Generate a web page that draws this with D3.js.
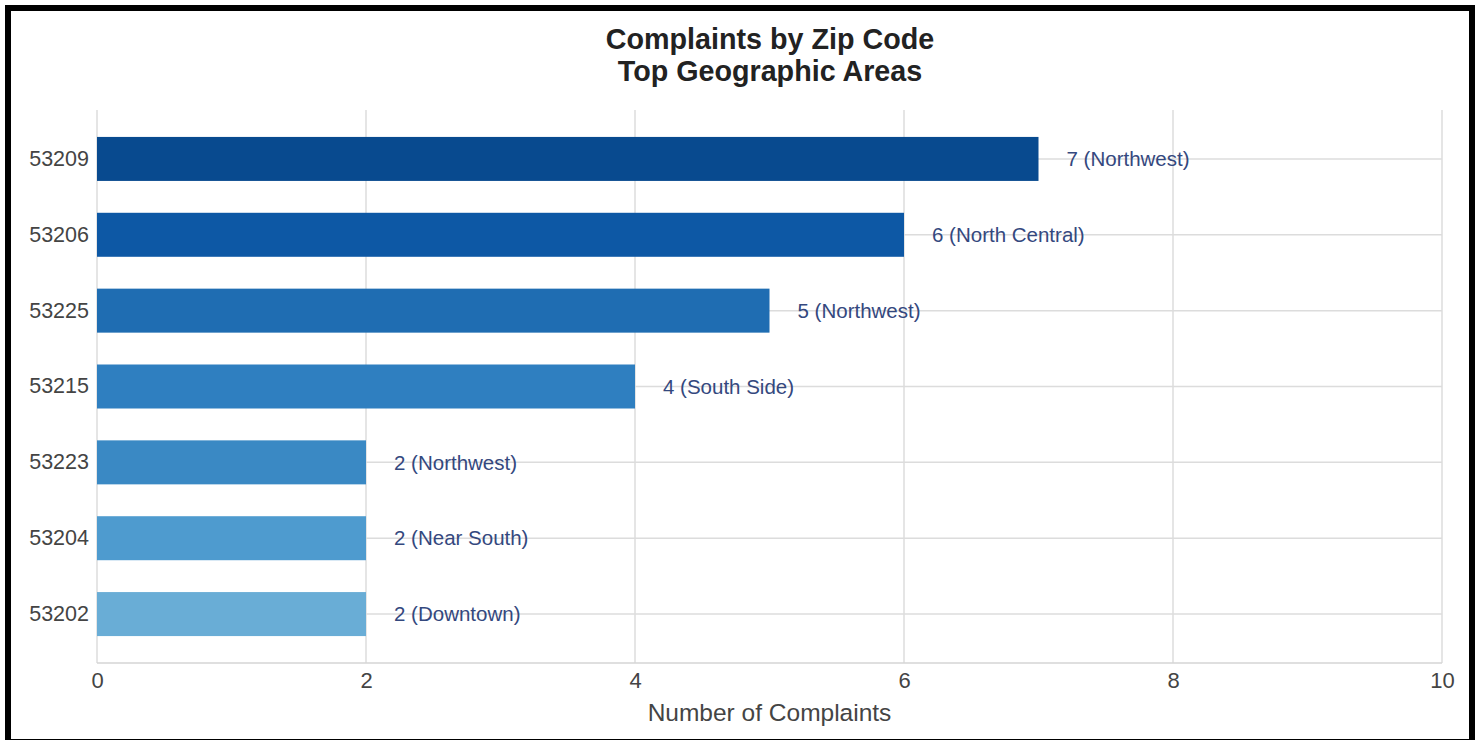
<!DOCTYPE html>
<html><head><meta charset="utf-8">
<script src="https://cdn.jsdelivr.net/npm/d3@7"></script>
<style>html,body{margin:0;padding:0;background:#fff;}svg{display:block;}</style>
</head><body>
<svg id="chart" width="1482" height="740"></svg>
<script>
const zips = ["53209","53206","53225","53215","53223","53204","53202"];
const counts = [7,6,5,4,2,2,2];
const areas = ["Northwest","North Central","Northwest","South Side","Northwest","Near South","Downtown"];
const barColors = ["#084a8f","#0d58a5","#1f6db2","#2f7fc0","#3a89c4","#4e9bcf","#69add6"];
const xTicks = [0,2,4,6,8,10];
const titleLines = ["Complaints by Zip Code","Top Geographic Areas"];
const xAxisTitle = "Number of Complaints";

const svg = d3.select("#chart");
const m = {left:97, right:1442, top:110, bottom:663};
const font = "'Liberation Sans', Arial, sans-serif";

svg.append("rect").attr("x",8).attr("y",8).attr("width",1464).attr("height",734)
  .attr("fill","#fff").attr("stroke","#000").attr("stroke-width",6);

const x = d3.scaleLinear().domain([0,10]).range([m.left,m.right]);
const y = d3.scaleBand().domain(zips).range([m.top,m.bottom]).paddingInner(0.42).paddingOuter(0.355);

// vertical grid
svg.append("g").selectAll("line").data(xTicks).join("line")
  .attr("x1",d=>x(d)).attr("x2",d=>x(d)).attr("y1",m.top).attr("y2",m.bottom)
  .attr("stroke","#dcdcdc").attr("stroke-width",1.5);
// horizontal grid at band centers
svg.append("g").selectAll("line").data(zips).join("line")
  .attr("x1",m.left).attr("x2",m.right)
  .attr("y1",d=>y(d)+y.bandwidth()/2).attr("y2",d=>y(d)+y.bandwidth()/2)
  .attr("stroke","#dcdcdc").attr("stroke-width",1.5);
// baseline
svg.append("line").attr("x1",m.left).attr("x2",m.right).attr("y1",m.bottom).attr("y2",m.bottom)
  .attr("stroke","#d4d4d4").attr("stroke-width",1.5);

// bars
svg.append("g").selectAll("rect").data(zips).join("rect")
  .attr("x",x(0)).attr("y",d=>y(d))
  .attr("width",(d,i)=>x(counts[i])-x(0)).attr("height",y.bandwidth())
  .attr("fill",(d,i)=>barColors[i]);

// value labels
svg.append("g").selectAll("text").data(zips).join("text")
  .attr("x",(d,i)=>x(counts[i])+28).attr("y",d=>y(d)+y.bandwidth()/2)
  .attr("dy","0.35em").attr("font-family",font).attr("font-size",20.5)
  .attr("fill","#34487e")
  .text((d,i)=>counts[i]+" ("+areas[i]+")");

// x axis
const xAxis = d3.axisBottom(x).tickValues(xTicks).tickSize(0).tickPadding(9).tickFormat(d3.format("d"));
const gx = svg.append("g").attr("transform",`translate(0,${m.bottom})`).call(xAxis);
gx.select(".domain").remove();
gx.selectAll("text").attr("font-family",font).attr("font-size",22).attr("fill","#444");

// y axis
const yAxis = d3.axisLeft(y).tickSize(0).tickPadding(8);
const gy = svg.append("g").attr("transform",`translate(${m.left},0)`).call(yAxis);
gy.select(".domain").remove();
gy.selectAll("text").attr("font-family",font).attr("font-size",21.5).attr("fill","#444");

// titles
svg.append("g").selectAll("text").data(titleLines).join("text")
  .attr("x",770).attr("y",(d,i)=>49+i*32).attr("text-anchor","middle")
  .attr("font-family",font).attr("font-size",28.7).attr("font-weight","bold").attr("fill","#222")
  .text(d=>d);

svg.append("text").attr("x",(m.left+m.right)/2).attr("y",721).attr("text-anchor","middle")
  .attr("font-family",font).attr("font-size",24.5).attr("fill","#444").text(xAxisTitle);
</script>
</body></html>
